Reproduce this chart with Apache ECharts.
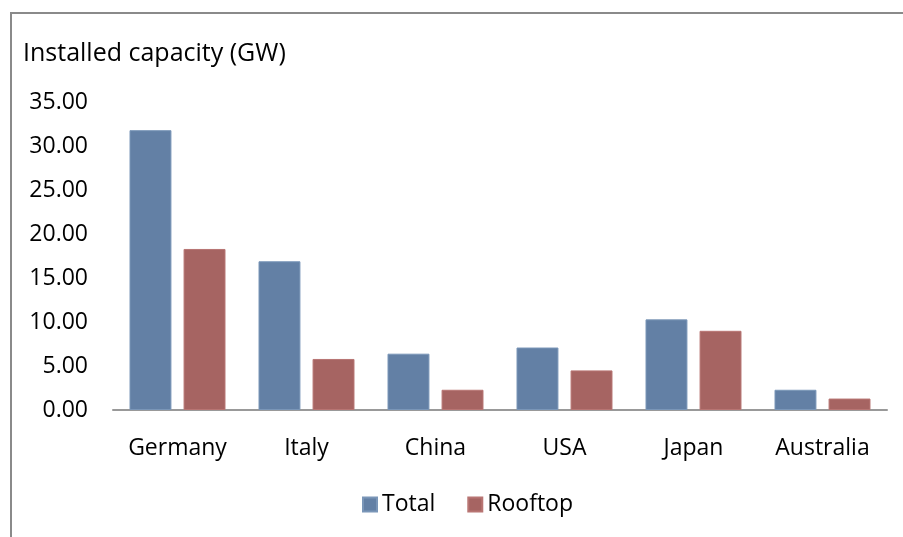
<!DOCTYPE html>
<html>
<head>
<meta charset="utf-8">
<script src="https://cdn.jsdelivr.net/npm/echarts@6/dist/echarts.min.js"></script>
<style>
html, body { margin: 0; padding: 0; background: #fff; }
#chart { width: 903px; height: 537px; }
</style>
</head>
<body>
<div id="chart"></div>
<script>
var countries = ['Germany', 'Italy', 'China', 'USA', 'Japan', 'Australia'];
var totalGW = [31.8, 16.9, 6.4, 7.1, 10.3, 2.3];
var rooftopGW = [18.3, 5.8, 2.3, 4.5, 9.0, 1.3];

var dom = document.getElementById('chart');
var myChart = echarts.init(dom, null, { renderer: 'canvas' });
var font = 'Open Sans';

var option = {
    animation: false,
    title: {
        text: 'Installed capacity (GW)',
        left: 18,
        top: 36,
        textStyle: { fontFamily: font, fontSize: 25, fontWeight: 'normal', color: '#000' }
    },
    graphic: [{
        type: 'polyline',
        shape: { points: [[11, 537], [11, 13], [903, 13]] },
        style: { stroke: '#8a8a8a', lineWidth: 2, fill: null }
    }],
    legend: {
        bottom: 16,
        left: 357,
        itemWidth: 14,
        itemHeight: 14,
        itemGap: 32,
        icon: 'rect',
        textStyle: { fontFamily: font, fontSize: 23, color: '#000' },
        data: ['Total', 'Rooftop']
    },
    grid: { left: 113, right: 16, top: 102, bottom: 127 },
    xAxis: {
        type: 'category',
        data: countries,
        axisLine: { lineStyle: { color: '#999', width: 2 } },
        axisTick: { show: false },
        axisLabel: { margin: 27, fontFamily: font, fontSize: 23, color: '#000' }
    },
    yAxis: {
        type: 'value',
        min: 0,
        max: 35,
        interval: 5,
        splitLine: { show: false },
        axisLine: { show: false },
        axisTick: { show: false },
        axisLabel: {
            margin: 25,
            fontFamily: font,
            fontSize: 23,
            color: '#000',
            formatter: function (v) { return v.toFixed(2); }
        }
    },
    series: [
        {
            name: 'Total',
            type: 'bar',
            data: totalGW,
            barGap: '29%',
            barCategoryGap: '25.6%',
            itemStyle: { color: '#6380a5', borderColor: '#7a96b8', borderWidth: 1 }
        },
        {
            name: 'Rooftop',
            type: 'bar',
            data: rooftopGW,
            itemStyle: { color: '#a66462', borderColor: '#b87573', borderWidth: 1 }
        }
    ]
};

myChart.setOption(option);
window.addEventListener('resize', myChart.resize);
</script>
</body>
</html>
